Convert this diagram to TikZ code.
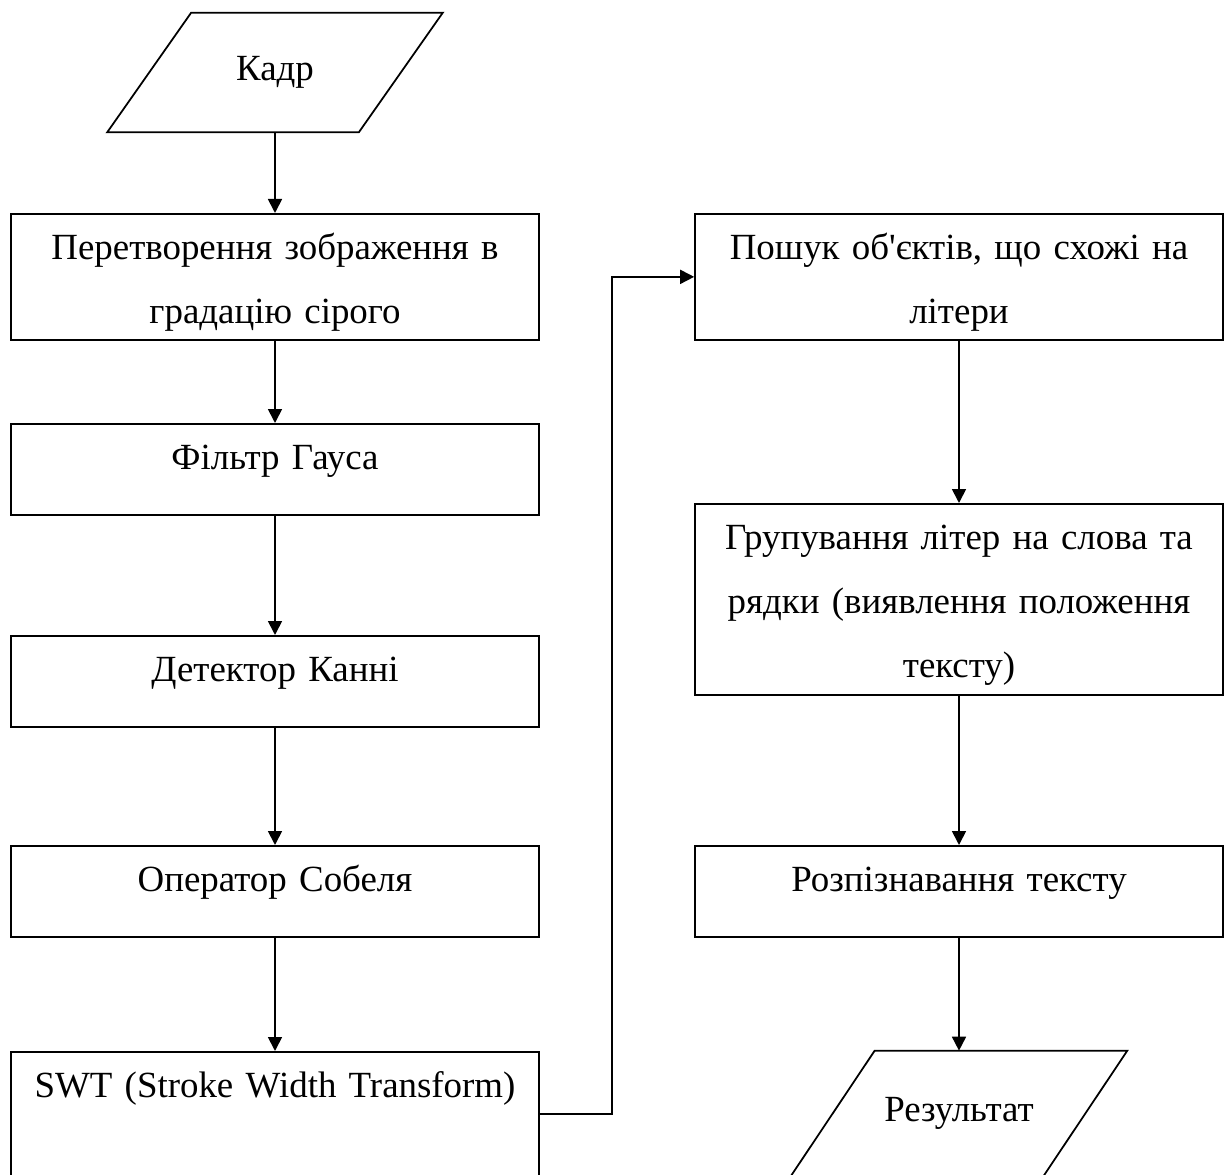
\documentclass[tikz,border=0pt]{standalone}
\usepackage{fontspec}
\setmainfont{Liberation Serif}[Ligatures=TeXOff]
\usepackage{tikz}
\usetikzlibrary{arrows.meta, calc}
\definecolor{ink}{HTML}{000000}

\tikzset{
    stage/.style={draw=ink, rectangle, inner sep=0pt, text width=10.56cm, align=center, line width=1pt, text height=0.92cm, font=\fontsize{21pt}{36.4pt}\selectfont},
    io/.style={rectangle, inner sep=0pt, font=\fontsize{21pt}{36.4pt}\selectfont},
    flow/.style={draw=ink, line width=1pt, -{Triangle[length=0.28cm, width=0.28cm]}}
}

\begin{document}
\begin{tikzpicture}[x=0.02cm, y=-0.02cm]
    \useasboundingbox (0,0) rectangle (1224,1175);
    \clip (0,0) rectangle (1224,1175);

    % Left column: input frame and preprocessing
    \node[io, minimum width=6.7cm, minimum height=2.38cm] (frame) at (275,72.5) {Кадр};
    \draw[draw=ink, line width=1pt] ($(frame.north west)+(84,0)$) -- (frame.north east) -- ($(frame.south east)-(84,0)$) -- (frame.south west) -- cycle;
    \node[stage, anchor=north, text depth=1.60cm] (gray) at (275,213) {Перетворення зображення в\\градацію сірого};
    \node[stage, anchor=north, text depth=0.90cm] (gauss) at (275,423) {Фільтр Гауса};
    \node[stage, anchor=north, text depth=0.90cm] (canny) at (275,635) {Детектор Канні};
    \node[stage, anchor=north, text depth=0.90cm] (sobel) at (275,845) {Оператор Собеля};
    \node[stage, anchor=north, text depth=3.08cm] (swt) at (275,1051) {SWT (Stroke Width Transform)};

    % Right column: letters, lines and result
    \node[stage, anchor=north, text depth=1.60cm] (letters) at (959,213) {Пошук об'єктів, що схожі на\\літери};
    \node[stage, anchor=north, text depth=2.90cm] (group) at (959,503) {Групування літер на слова та\\рядки (виявлення положення\\тексту)};
    \node[stage, anchor=north, text depth=0.90cm] (ocr) at (959,845) {Розпізнавання тексту};
    \node[io, minimum width=6.72cm, minimum height=2.5cm] (result) at (959,1113.5) {Результат};
    \draw[draw=ink, line width=1pt] ($(result.north west)+(84,0)$) -- (result.north east) -- ($(result.south east)-(84,0)$) -- (result.south west) -- cycle;

    % Arrows
    \draw[flow] (frame.south) -- (gray.north);
    \draw[flow] (gray.south) -- (gauss.north);
    \draw[flow] (gauss.south) -- (canny.north);
    \draw[flow] (canny.south) -- (sobel.north);
    \draw[flow] (sobel.south) -- (swt.north);
    \coordinate (turn) at (612,1114);
    \draw[flow] (swt.east |- turn) -- (turn) |- (letters.west);
    \draw[flow] (letters.south) -- (group.north);
    \draw[flow] (group.south) -- (ocr.north);
    \draw[flow] (ocr.south) -- (result.north);
\end{tikzpicture}
\end{document}
